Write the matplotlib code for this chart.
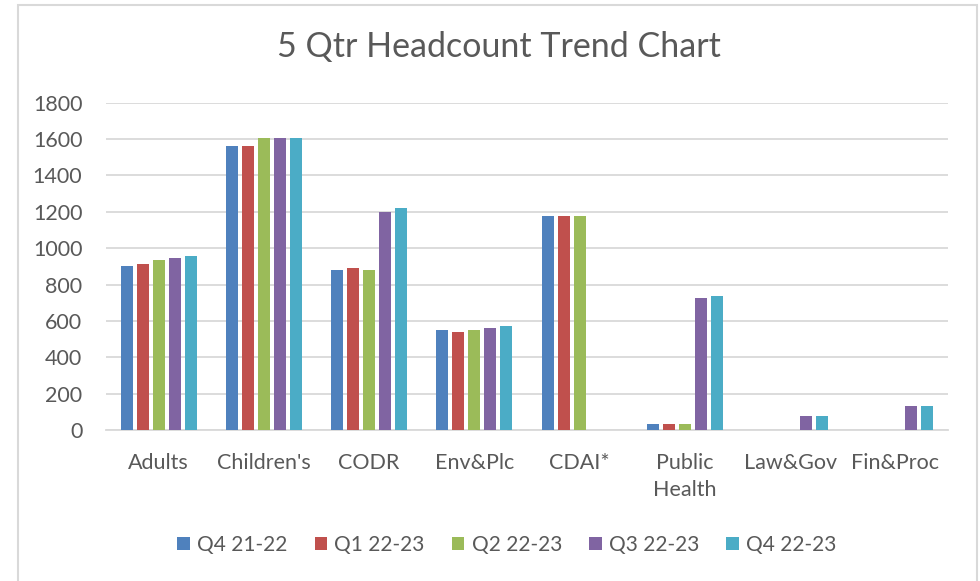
import numpy as np
import matplotlib
matplotlib.use("Agg")
import matplotlib.pyplot as plt
from matplotlib.patches import Rectangle

plt.rcParams['font.family'] = ['Lato', 'DejaVu Sans']

categories = ["Adults", "Children's", "CODR", "Env&Plc", "CDAI*", "Public\nHealth", "Law&Gov", "Fin&Proc"]
quarters = ["Q4 21-22", "Q1 22-23", "Q2 22-23", "Q3 22-23", "Q4 22-23"]

q4_2122 = [902, 1562, 880, 550, 1177, 33, 0, 0]
q1_2223 = [913, 1562, 891, 539, 1177, 33, 0, 0]
q2_2223 = [935, 1606, 880, 550, 1177, 33, 0, 0]
q3_2223 = [946, 1606, 1199, 561, 0, 726, 77, 132]
q4_2223 = [957, 1606, 1221, 572, 0, 737, 77, 132]

series = [q4_2122, q1_2223, q2_2223, q3_2223, q4_2223]
colors = ["#4F81BD", "#C0504D", "#9BBB59", "#8064A2", "#4BACC6"]
txt = "#595959"
grid = "#d9d9d9"

fig = plt.figure(figsize=(9.8, 5.81), dpi=100)
ax = fig.add_axes([106/980, 151/581, 842/980, 327.3/581])

x = np.arange(len(categories))
width = 0.114
step = 0.152
for i, vals in enumerate(series):
    ax.bar(x + (i - 2) * step, vals, width, color=colors[i], label=quarters[i], zorder=3)

ax.set_xlim(-0.5, len(categories) - 0.5)
ax.set_ylim(0, 1800)
ax.set_yticks(range(0, 1801, 200))
ax.yaxis.grid(True, color=grid, linewidth=1.3, zorder=0)
ax.set_axisbelow(True)
for s in ["top", "right", "left"]:
    ax.spines[s].set_visible(False)
ax.spines["bottom"].set_color(grid)
ax.spines["bottom"].set_linewidth(1.3)
ax.set_xticks(x)
ax.set_xticklabels(categories, linespacing=1.45)
ax.tick_params(axis="both", length=0, labelsize=15.5, labelcolor=txt)
ax.tick_params(axis="x", pad=16.5)
ax.tick_params(axis="y", pad=17)

fig.text(498.5/980, 1 - 47/581, "5 Qtr Headcount Trend Chart", ha="center", va="center",
         fontsize=24.5, color=txt)

fig.legend(loc="center", bbox_to_anchor=(507/980, 1 - 545/581), ncol=5, frameon=False,
           fontsize=15, labelcolor=txt, handlelength=0.6, handleheight=0.6,
           handletextpad=0.35, columnspacing=1.3)

fig.patches.append(Rectangle((18/980, -0.02), 959/980, (581 - 4.5)/581 + 0.02,
                             transform=fig.transFigure, fill=False,
                             edgecolor=grid, linewidth=1.5))

fig.savefig("out.png", dpi=100, facecolor="white")
